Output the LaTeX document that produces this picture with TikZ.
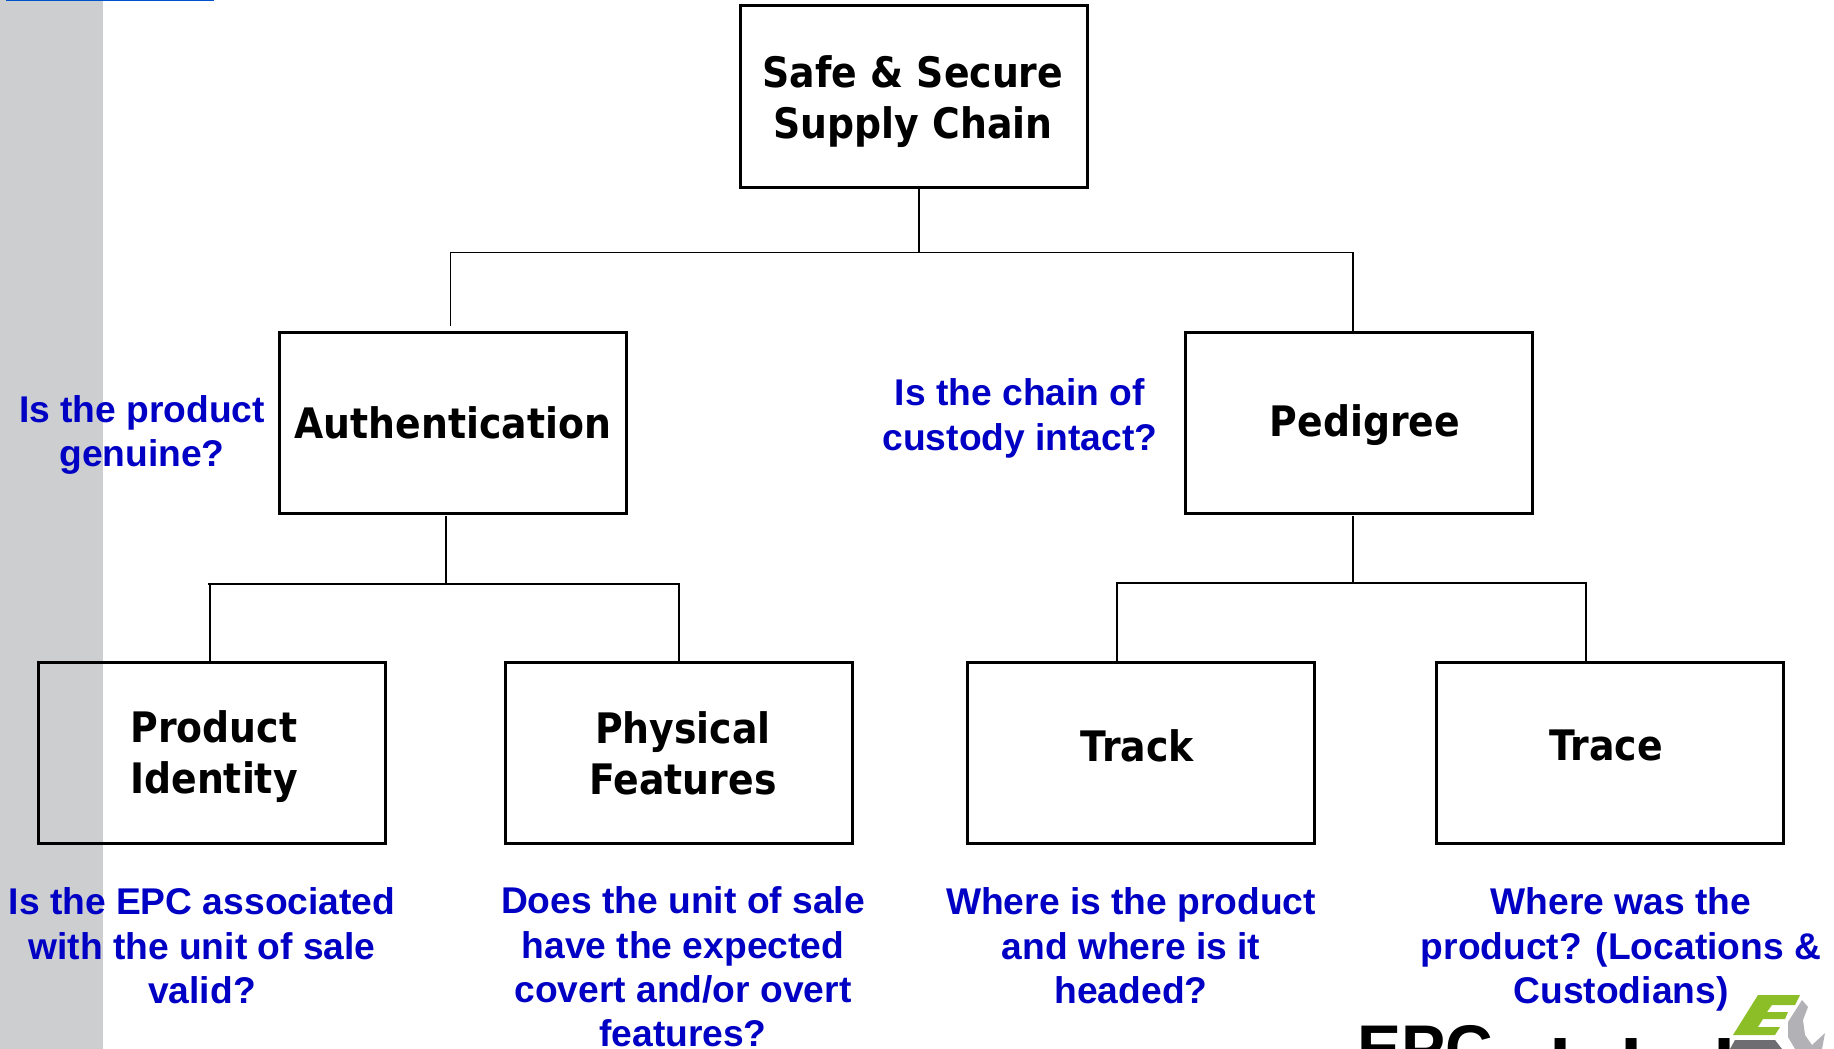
\documentclass[tikz,border=0pt]{standalone}
\usepackage{fontspec}
\setmainfont{Liberation Sans}
\newfontfamily\headfont{DejaVu Sans Bold}[FakeStretch=0.9]
\definecolor{qblue}{HTML}{0000C4}
\definecolor{sidegrey}{HTML}{CDCED0}
\definecolor{logogreen}{HTML}{8CBE28}
\definecolor{logogrey}{HTML}{B2B2B6}
\definecolor{logodark}{HTML}{6E6E72}
\tikzset{
  box/.style={draw=black,line width=3pt,minimum width=347pt,minimum height=181pt,inner sep=0pt,anchor=north west},
  boxtext/.style={font=\headfont\fontsize{42}{51}\selectfont,align=center,inner sep=0pt,text=black},
  question/.style={font=\fontsize{37.2}{44.4}\selectfont\bfseries,align=center,inner sep=0pt,text=qblue},
  link/.style={draw=black,line width=1.7pt},
  logotext/.style={anchor=base west,inner sep=0pt,text=black},
}
\begin{document}
\begin{tikzpicture}[x=1pt,y=-1pt]
\useasboundingbox (0,0) rectangle (1834,1049);
\clip (0,0) rectangle (1834,1049);
\fill[sidegrey] (0,0) rectangle (103,1049);
\fill[blue!60!cyan!80!black] (6,0) rectangle (214,1.5);
% boxes
\node[box] (root) at (739,4.5) {};
\node[box] (auth) at (278,330.5) {};
\node[box] (ped) at (1184,330.5) {};
\node[box] (pid) at (37,660.5) {};
\node[box] (phys) at (504,660.5) {};
\node[box] (track) at (966,660.5) {};
\node[box] (trace) at (1435,660.5) {};
% box texts
\node[boxtext] (t0) at (913,102) {Safe \& Secure\\Supply Chain};
\node[boxtext] (t1) at (453,423) {Authentication};
\node[boxtext] (t2) at (1365,425.5) {Pedigree};
\node[boxtext] (t3) at (214,756.5) {Product\\Identity};
\node[boxtext] (t4) at (683,753) {Physical\\Features};
\node[boxtext] (t5) at (1137,746) {Track};
\node[boxtext] (t6) at (1606,745) {Trace};
% questions
\node[question] (q1) at (142,435) {Is the product\\genuine?};
\node[question] (q2) at (1020,418.5) {Is the chain of\\custody intact?};
\node[question] (q3) at (202,946) {Is the EPC associated\\with the unit of sale\\valid?};
\node[question] (q4) at (683,967) {Does the unit of sale\\have the expected\\covert and/or overt\\features?};
\node[question] (q5) at (1131,946) {Where is the product\\and where is it\\headed?};
\node[question] (q6) at (1621,949.5) {Where was the\\product? (Locations \&\\Custodians)};
% connectors
\coordinate (j0) at (919,252.5);
\coordinate (jL) at (450.5,252.5);
\coordinate (jR) at (1353,252.5);
\coordinate (rootb) at (919,187);
\coordinate (authT) at (450.5,326);
\coordinate (pedT) at (1353,331);
\draw[link] (rootb) -- (j0);
\draw[link] (authT) -- (jL) -- (jR) -- (pedT);
\coordinate (a0) at (446,516);
\coordinate (a1) at (446,584);
\coordinate (a2) at (208,584);
\coordinate (a3) at (210,584);
\coordinate (a4) at (210,661);
\coordinate (a5) at (679,584);
\coordinate (a6) at (679,661);
\draw[link] (a0) -- (a1);
\draw[link] (a2) -- (a5) -- (a6);
\draw[link] (a3) -- (a4);
\coordinate (p0) at (1353,516);
\coordinate (p1) at (1353,583);
\coordinate (p2) at (1116,583);
\coordinate (p3) at (1117,583);
\coordinate (p4) at (1117,661);
\coordinate (p5) at (1586,583);
\coordinate (p6) at (1586,661);
\draw[link] (p0) -- (p1);
\draw[link] (p2) -- (p5) -- (p6);
\draw[link] (p3) -- (p4);
% logo
\node[logotext,font=\fontsize{66}{70}\selectfont\bfseries] (logoa) at (1357,1071) {EPC};
\node[logotext,font=\fontsize{80}{84}\selectfont\bfseries] (logob) at (1500,1096) {global};
\fill[logogrey] (1802,1000) -- (1808,1007) -- (1803,1020) -- (1805,1035) -- (1812,1045) -- (1825,1033) -- (1822,1049) -- (1795,1049) -- (1788,1037) -- (1788,1022) -- cycle;
\fill[logogreen] (1758,995) -- (1800,995) -- (1795,1005) -- (1772,1005) -- (1767,1012) -- (1788,1012) -- (1785,1019) -- (1763,1019) -- (1758,1027) -- (1780,1027) -- (1775,1035) -- (1733,1035) -- cycle;
\fill[logodark] (1735,1040) -- (1775,1040) -- (1782,1049) -- (1730,1049) -- cycle;
\end{tikzpicture}
\end{document}
